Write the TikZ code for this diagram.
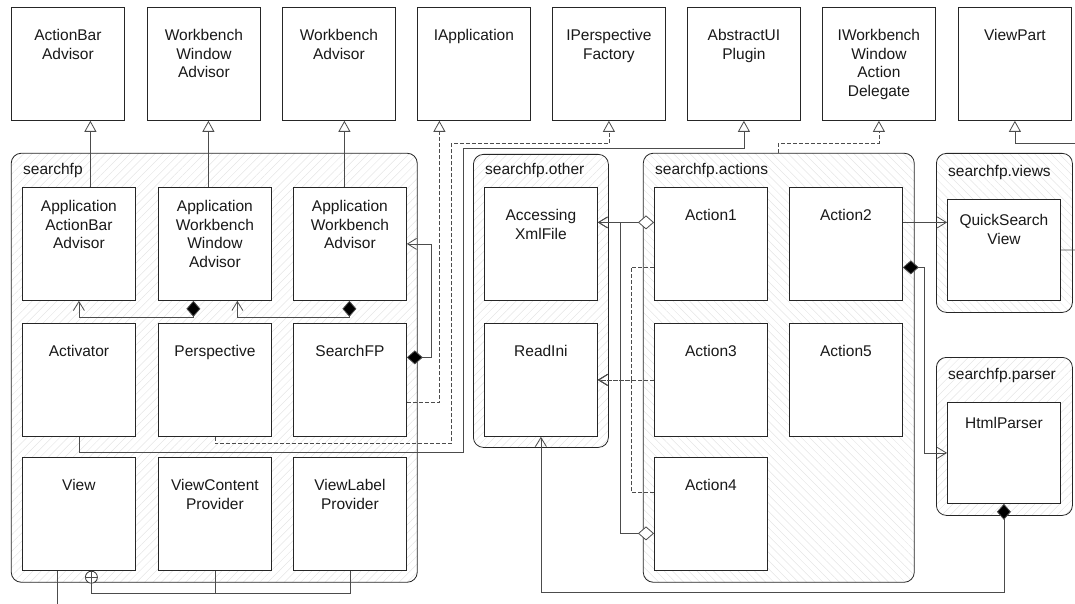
\documentclass[tikz,border=0pt]{standalone}
\usepackage{fontspec}
\setmainfont{Liberation Sans}
\usetikzlibrary{arrows.meta,patterns.meta}

\tikzset{
	cls/.style={draw=black!85,fill=white,line width=0.8pt,minimum width=113pt,minimum height=113pt,inner sep=0pt,anchor=north west},
	pkg/.style={draw=black!85,line width=0.8pt,rounded corners=10pt,inner sep=0pt,anchor=north west,pattern color=black!10},
	hatchR/.style={pattern={Lines[angle=45,distance=5.8pt,line width=0.5pt]}},
	hatchL/.style={pattern={Lines[angle=-45,distance=5.8pt,line width=0.5pt]}},
	ctext/.style={anchor=north,inner sep=0pt,align=center,text=black!90},
	ptext/.style={anchor=base west,inner sep=0pt,text=black!90},
	conn/.style={draw=black!70,line width=0.8pt},
	gen/.style={conn,-{Triangle[open,length=11pt,width=12pt]}},
	real/.style={gen,dash pattern=on 4pt off 2pt},
	assoc/.style={conn,-{Straight Barb[length=9pt,width=11pt]}},
	dep/.style={assoc,dash pattern=on 4pt off 2pt},
	comp/.style={conn,{Diamond[length=16pt,width=14pt,fill=black]}-{Straight Barb[length=9pt,width=11pt]}},
	aggr/.style={conn,{Diamond[length=16pt,width=14pt,fill=white]}-{Straight Barb[length=9pt,width=11pt]}},
	nest/.style={circle,draw=black!80,fill=white,line width=0.8pt,minimum size=12pt,inner sep=0pt,anchor=north}
}

\begin{document}
\begin{tikzpicture}[x=1pt,y=-1pt,font=\fontsize{15.5}{18.5}\selectfont]
	\useasboundingbox (0,0) rectangle (1075,604);

	% packages
	\node[pkg,hatchR,minimum width=406pt,minimum height=429pt] (searchfp) at (11,153) {};
	\node[ptext] (searchfp-t) at ([xshift=12pt,yshift=-22pt]searchfp.north west) {searchfp};
	\node[pkg,hatchR,minimum width=135pt,minimum height=293pt] (other) at (473,154) {};
	\node[ptext] (other-t) at ([xshift=12pt,yshift=-21pt]other.north west) {searchfp.other};
	\node[pkg,hatchL,minimum width=271pt,minimum height=429pt] (actions) at (643,153) {};
	\node[ptext] (actions-t) at ([xshift=12pt,yshift=-22pt]actions.north west) {searchfp.actions};
	\node[pkg,hatchL,minimum width=136pt,minimum height=159pt] (views) at (936,153) {};
	\node[ptext] (views-t) at ([xshift=12pt,yshift=-23pt]views.north west) {searchfp.views};
	\node[pkg,hatchR,minimum width=136pt,minimum height=158pt] (parser) at (936,357) {};
	\node[ptext] (parser-t) at ([xshift=12pt,yshift=-22pt]parser.north west) {searchfp.parser};

	% framework classes
	\node[cls] (abAdv) at (11,7) {};
	\node[ctext] (abAdv-t) at ([yshift=-22.5pt]abAdv.north) {ActionBar\\Advisor};
	\node[cls] (wwAdv) at (147,7) {};
	\node[ctext] (wwAdv-t) at ([yshift=-22.5pt]wwAdv.north) {Workbench\\Window\\Advisor};
	\node[cls] (wbAdv) at (282,7) {};
	\node[ctext] (wbAdv-t) at ([yshift=-22.5pt]wbAdv.north) {Workbench\\Advisor};
	\node[cls] (iApp) at (417,7) {};
	\node[ctext] (iApp-t) at ([yshift=-22.5pt]iApp.north) {IApplication};
	\node[cls] (iPersp) at (552,7) {};
	\node[ctext] (iPersp-t) at ([yshift=-22.5pt]iPersp.north) {IPerspective\\Factory};
	\node[cls] (absUI) at (687,7) {};
	\node[ctext] (absUI-t) at ([yshift=-22.5pt]absUI.north) {AbstractUI\\Plugin};
	\node[cls] (iwwad) at (822,7) {};
	\node[ctext] (iwwad-t) at ([yshift=-22.5pt]iwwad.north) {IWorkbench\\Window\\Action\\Delegate};
	\node[cls] (viewPart) at (958,7) {};
	\node[ctext] (viewPart-t) at ([yshift=-22.5pt]viewPart.north) {ViewPart};

	% searchfp
	\node[cls] (aaba) at (22,187) {};
	\node[ctext] (aaba-t) at ([yshift=-13.5pt]aaba.north) {Application\\ActionBar\\Advisor};
	\node[cls] (awwa) at (158,187) {};
	\node[ctext] (awwa-t) at ([yshift=-13.5pt]awwa.north) {Application\\Workbench\\Window\\Advisor};
	\node[cls] (awa) at (293,187) {};
	\node[ctext] (awa-t) at ([yshift=-13.5pt]awa.north) {Application\\Workbench\\Advisor};
	\node[cls] (activator) at (22,323) {};
	\node[ctext] (activator-t) at ([yshift=-22.5pt]activator.north) {Activator};
	\node[cls] (perspective) at (158,323) {};
	\node[ctext] (perspective-t) at ([yshift=-22.5pt]perspective.north) {Perspective};
	\node[cls] (searchFP) at (293,323) {};
	\node[ctext] (searchFP-t) at ([yshift=-22.5pt]searchFP.north) {SearchFP};
	\node[cls] (view) at (22,457) {};
	\node[ctext] (view-t) at ([yshift=-22.5pt]view.north) {View};
	\node[cls] (vcp) at (158,457) {};
	\node[ctext] (vcp-t) at ([yshift=-22.5pt]vcp.north) {ViewContent\\Provider};
	\node[cls] (vlp) at (293,457) {};
	\node[ctext] (vlp-t) at ([yshift=-22.5pt]vlp.north) {ViewLabel\\Provider};

	% searchfp.other
	\node[cls] (accXml) at (484,187) {};
	\node[ctext] (accXml-t) at ([yshift=-22.5pt]accXml.north) {Accessing\\XmlFile};
	\node[cls] (readIni) at (484,323) {};
	\node[ctext] (readIni-t) at ([yshift=-22.5pt]readIni.north) {ReadIni};

	% searchfp.actions
	\node[cls] (action1) at (654,187) {};
	\node[ctext] (action1-t) at ([yshift=-22.5pt]action1.north) {Action1};
	\node[cls] (action2) at (789,187) {};
	\node[ctext] (action2-t) at ([yshift=-22.5pt]action2.north) {Action2};
	\node[cls] (action3) at (654,323) {};
	\node[ctext] (action3-t) at ([yshift=-22.5pt]action3.north) {Action3};
	\node[cls] (action5) at (789,323) {};
	\node[ctext] (action5-t) at ([yshift=-22.5pt]action5.north) {Action5};
	\node[cls] (action4) at (654,457) {};
	\node[ctext] (action4-t) at ([yshift=-22.5pt]action4.north) {Action4};

	% searchfp.views / searchfp.parser
	\node[cls,minimum height=101pt] (qsv) at (947,199) {};
	\node[ctext] (qsv-t) at ([yshift=-15.5pt]qsv.north) {QuickSearch\\View};
	\node[cls,minimum height=101pt] (htmlParser) at (947,402) {};
	\node[ctext] (htmlParser-t) at ([yshift=-15.5pt]htmlParser.north) {HtmlParser};

	% free ends
	\coordinate (qsvOut) at (1075,250);
	\coordinate (vpIn) at (1075,143);
	\coordinate (viewOut) at (57,604);

	% generalizations
	\draw[gen] ([xshift=11.5pt]aaba.north) -- ([xshift=22.5pt]abAdv.south);
	\draw[gen] ([xshift=-6.5pt]awwa.north) -- ([xshift=4.5pt]wwAdv.south);
	\draw[gen] ([xshift=-5.5pt]awa.north) -- ([xshift=5.5pt]wbAdv.south);
	\draw[gen] (activator.south) -- ++(0,16) -| ++(384.5,-304) -| (absUI.south);
	\draw[gen] (vpIn) -| (viewPart.south);
	\draw[conn] (qsv.east) -- (qsvOut);
	\draw[real] ([yshift=-22.5pt]searchFP.east) -| ([xshift=-34.5pt]iApp.south);
	\draw[real] (perspective.south) -- ++(0,7) -| ++(236.5,-300) -| (iPersp.south);
	\draw[real] (actions.north) -- ++(0,-10) -| (iwwad.south);

	% compositions and associations
	\draw[comp] ([xshift=-21.5pt]awwa.south) -- ++(0,17) -| (aaba.south);
	\draw[comp] ([xshift=-0.5pt]awa.south) -- ++(0,17) -| ([xshift=22.5pt]awwa.south);
	\draw[comp] ([yshift=22.5pt]searchFP.east) -- ++(25,0) |- (awa.east);
	\draw[aggr] ([yshift=21.5pt]action1.west) -- ([yshift=21.5pt]accXml.east);
	\draw[aggr] ([yshift=-19.5pt]action4.west) -- ++(-34,0) |- ([yshift=21.5pt]accXml.east);
	\draw[assoc] ([yshift=21.5pt]action2.east) -- ([yshift=27.5pt]qsv.west);
	\draw[comp] ([yshift=-23.5pt]action2.east) -- ++(22,0) |- (htmlParser.west);
	\draw[comp] (htmlParser.south) -- ++(0,89) -| (readIni.south);

	% dependencies
	\draw[dep] ([yshift=-23.5pt]action1.west) -- ++(-23,0) |- (readIni.east);
	\draw[dep] (action3.west) -- (readIni.east);
	\draw[dep] ([yshift=21.5pt]action4.west) -- ++(-23,0) |- (readIni.east);

	% nesting
	\draw[conn] (view.south -| viewOut) -- (viewOut);
	\node[nest] (nestV) at ([xshift=12.5pt]view.south) {};
	\draw[conn] (nestV.north) -- (nestV.south) (nestV.west) -- (nestV.east);
	\draw[conn] (nestV.south) -- ++(0,10) -| (vlp.south);
	\draw[conn] (vcp.south) -- ++(0,22);
\end{tikzpicture}
\end{document}
